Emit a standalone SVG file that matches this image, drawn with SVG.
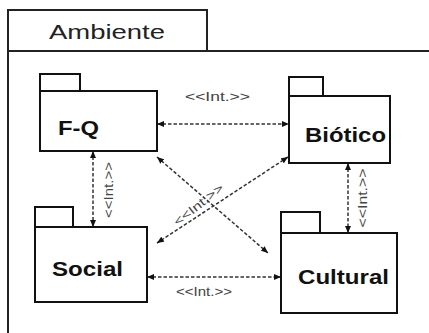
<svg xmlns="http://www.w3.org/2000/svg" width="429" height="333" viewBox="0 0 429 333">
  <defs>
    <marker id="arrow" viewBox="0 0 7 6" refX="7" refY="3" markerWidth="7" markerHeight="6" markerUnits="userSpaceOnUse" orient="auto-start-reverse">
      <path d="M0,0 L7,3 L0,6 z" fill="#111"/>
    </marker>
    <style>
      .frame { fill: none; stroke: #222; stroke-width: 2; }
      .pkg { fill: #fff; stroke: #111; stroke-width: 2; }
      .name { font-family: "Liberation Sans", Arial, sans-serif; font-weight: bold; font-size: 21px; fill: #111; }
      .title { font-family: "Liberation Sans", Arial, sans-serif; font-size: 21px; fill: #222; }
      .dep { fill: none; stroke: #333; stroke-width: 1.5; stroke-dasharray: 3.5 2; marker-start: url(#arrow); marker-end: url(#arrow); }
      .lbl { font-family: "Liberation Sans", Arial, sans-serif; font-size: 12px; fill: #444; }
    </style>
  </defs>

  <!-- Enclosing package: Ambiente -->
  <g id="ambiente">
    <rect class="frame" x="8" y="10" width="199" height="41"/>
    <path class="frame" d="M429,51 L8,51 L8,333"/>
    <text class="title" x="107" y="39" text-anchor="middle" textLength="116" lengthAdjust="spacingAndGlyphs">Ambiente</text>
  </g>

  <!-- Dependency connectors -->
  <g id="connectors">
    <line class="dep" x1="157" y1="124" x2="289" y2="124"/>
    <line class="dep" x1="93" y1="151" x2="93" y2="227"/>
    <line class="dep" x1="348" y1="163" x2="348" y2="233"/>
    <line class="dep" x1="147" y1="277" x2="281" y2="277"/>
    <line class="dep" x1="157" y1="157" x2="268" y2="253"/>
    <line class="dep" x1="288" y1="157" x2="157" y2="243"/>
    <text class="lbl" x="185" y="101" textLength="65" lengthAdjust="spacingAndGlyphs">&lt;&lt;Int.&gt;&gt;</text>
    <text class="lbl" x="176" y="296" textLength="56" lengthAdjust="spacingAndGlyphs">&lt;&lt;Int.&gt;&gt;</text>
    <text class="lbl" transform="translate(113,190) rotate(-90)" text-anchor="middle" textLength="56" lengthAdjust="spacingAndGlyphs">&lt;&lt;Int.&gt;&gt;</text>
    <text class="lbl" transform="translate(367,198) rotate(-90)" text-anchor="middle" textLength="59" lengthAdjust="spacingAndGlyphs">&lt;&lt;Int.&gt;&gt;</text>
    <text class="lbl" transform="translate(201,208) rotate(-38)" text-anchor="middle" textLength="60" lengthAdjust="spacingAndGlyphs">&lt;&lt;Int.&gt;&gt;</text>
  </g>

  <!-- Packages -->
  <g id="fq">
    <rect class="pkg" x="40" y="74" width="40" height="17"/>
    <rect class="pkg" x="40" y="91" width="117" height="60"/>
    <text class="name" x="58" y="135" textLength="41" lengthAdjust="spacingAndGlyphs">F-Q</text>
  </g>
  <g id="biotico">
    <rect class="pkg" x="289" y="77" width="34" height="19"/>
    <rect class="pkg" x="289" y="96" width="101" height="67"/>
    <text class="name" x="305" y="142" textLength="81" lengthAdjust="spacingAndGlyphs">Biótico</text>
  </g>
  <g id="social">
    <rect class="pkg" x="35" y="207" width="38" height="20"/>
    <rect class="pkg" x="35" y="227" width="112" height="75"/>
    <text class="name" x="52" y="276" textLength="71" lengthAdjust="spacingAndGlyphs">Social</text>
  </g>
  <g id="cultural">
    <rect class="pkg" x="281" y="212" width="39" height="21"/>
    <rect class="pkg" x="281" y="233" width="116" height="80"/>
    <text class="name" x="298" y="284" textLength="91" lengthAdjust="spacingAndGlyphs">Cultural</text>
  </g>
</svg>
